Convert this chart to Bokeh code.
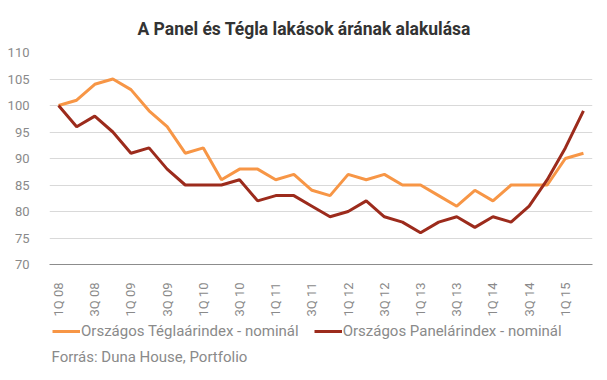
from math import pi
from bokeh.plotting import figure
from bokeh.layouts import column
from bokeh.models import Legend, LegendItem, Label, FixedTicker, Range1d, ColumnDataSource
from bokeh.embed import file_html
from bokeh.resources import INLINE

quarters = ["1Q 08", "2Q 08", "3Q 08", "4Q 08",
            "1Q 09", "2Q 09", "3Q 09", "4Q 09",
            "1Q 10", "2Q 10", "3Q 10", "4Q 10",
            "1Q 11", "2Q 11", "3Q 11", "4Q 11",
            "1Q 12", "2Q 12", "3Q 12", "4Q 12",
            "1Q 13", "2Q 13", "3Q 13", "4Q 13",
            "1Q 14", "2Q 14", "3Q 14", "4Q 14",
            "1Q 15", "2Q 15"]
tegla = [100, 101, 104, 105, 103, 99, 96, 91, 92, 86, 88, 88, 86, 87, 84,
         83, 87, 86, 87, 85, 85, 83, 81, 84, 82, 85, 85, 85, 90, 91]
panel = [100, 96, 98, 95, 91, 92, 88, 85, 85, 85, 86, 82, 83, 83, 81,
         79, 80, 82, 79, 78, 76, 78, 79, 77, 79, 78, 81, 86, 92, 99]
y_ticks = [70, 75, 80, 85, 90, 95, 100, 105, 110]

TITLE = "A Panel és Tégla lakások árának alakulása"
NAME_T = "Országos Téglaárindex - nominál"
NAME_P = "Országos Panelárindex - nominál"
SOURCE = "Forrás: Duna House, Portfolio"

ORANGE = "#F79646"
DARKRED = "#9C2B1C"
GRAY = "#8a8a8a"
FONT = "Roboto"

idx = list(range(len(quarters)))
src = ColumnDataSource(dict(x=idx, tegla=tegla, panel=panel))

# ---- main chart ----
p = figure(frame_width=543, frame_height=212, output_backend="svg", toolbar_location=None,
           x_range=Range1d(-0.5, len(quarters) - 0.5), y_range=Range1d(70, 110),
           min_border_left=49, min_border_right=15, min_border_top=52,
           min_border_bottom=50, outline_line_color=None)

p.title.text = TITLE
p.title.align = "left"
p.title.offset = 88
p.title.standoff = 27
p.title.text_font = FONT
p.title.text_font_size = "17.5px"
p.title.text_font_style = "bold"
p.title.text_color = "#333333"

p.line("x", "tegla", source=src, line_color=ORANGE, line_width=3)
p.line("x", "panel", source=src, line_color=DARKRED, line_width=3)

p.xgrid.grid_line_color = None
p.ygrid.grid_line_color = "#d9d9d9"
p.ygrid.grid_line_width = 1

p.yaxis.ticker = FixedTicker(ticks=y_ticks)
p.yaxis.axis_line_color = None
p.yaxis.major_tick_line_color = None
p.yaxis.minor_tick_line_color = None
p.yaxis.major_label_text_font = FONT
p.yaxis.major_label_text_font_size = "13px"
p.yaxis.major_label_text_color = GRAY
p.yaxis.major_label_standoff = 14

p.xaxis.ticker = FixedTicker(ticks=idx[::2])
p.xaxis.major_label_overrides = {i: quarters[i] for i in idx[::2]}
p.xaxis.major_label_orientation = pi / 2
p.xaxis.axis_line_color = "#8c8c8c"
p.xaxis.axis_line_width = 1
p.xaxis.major_tick_line_color = None
p.xaxis.minor_tick_line_color = None
p.xaxis.major_label_text_font = FONT
p.xaxis.major_label_text_font_size = "13px"
p.xaxis.major_label_text_color = GRAY
p.xaxis.major_label_standoff = 12

# ---- footer: legend + source ----
f = figure(frame_width=607, frame_height=66, output_backend="svg", toolbar_location=None,
           x_range=Range1d(-0.5, len(quarters) - 0.5), y_range=Range1d(0, 1),
           min_border=0, outline_line_color=None)
f.xaxis.visible = False
f.yaxis.visible = False
f.xgrid.grid_line_color = None
f.ygrid.grid_line_color = None

# legend keys (series lie outside this strip's range, only their keys show)
k_t = f.line("x", "tegla", source=src, line_color=ORANGE, line_width=3)
k_p = f.line("x", "panel", source=src, line_color=DARKRED, line_width=3)

legend = Legend(items=[LegendItem(label=NAME_T, renderers=[k_t]),
                       LegendItem(label=NAME_P, renderers=[k_p])],
                orientation="horizontal", location=(52, 44),
                padding=0, margin=0, spacing=15, label_standoff=1,
                glyph_width=28, glyph_height=20, label_height=20,
                border_line_color=None, background_fill_alpha=0,
                label_text_font=FONT, label_text_font_size="15px",
                label_text_color=GRAY)
f.add_layout(legend, "center")

f.add_layout(Label(x=2, y=29, x_units="screen", y_units="screen", text=SOURCE,
                   text_font=FONT, text_font_size="15px", text_color=GRAY,
                   text_baseline="middle"))

layout = column(p, f, spacing=0)
open("out.html", "w").write(file_html(layout, INLINE))
